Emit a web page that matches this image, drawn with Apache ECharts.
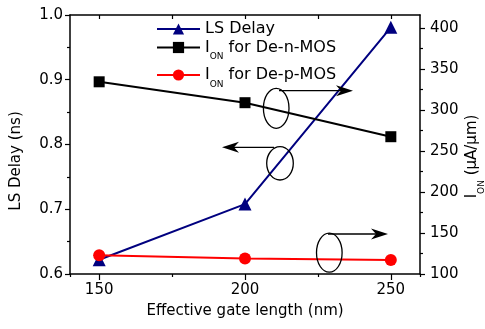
<!DOCTYPE html>
<html><head><meta charset="utf-8">
<script src="https://cdn.jsdelivr.net/npm/echarts@6/dist/echarts.min.js"></script>
<style>html,body{margin:0;padding:0;background:#fff}#c{width:485px;height:329px}</style>
</head><body><div id="c"></div>
<script>
// ---- data ----
const gateLength = [150, 200, 250];
const lsDelay = [0.622, 0.708, 0.981];
const ionN = [334.5, 309, 267.5];
const ionP = [123, 119, 117];
const xMajorTicks = [150, 200, 250];
const xMinorTicks = [140, 175, 225, 260];
const xTopTicks = [150, 175, 200, 225, 250];
const rightMajorTicks = [100, 150, 200, 250, 300, 350, 400];
const rightMinorTicks = [125, 175, 225, 275, 325, 375];
const seriesNames = ['LS Delay', 'ION for De-n-MOS', 'ION for De-p-MOS'];

const FONT = 'DejaVu Sans';
const chart = echarts.init(document.getElementById('c'), null, {renderer: 'canvas'});

const richSub = {
  m: {fontFamily: FONT, fontSize: 16, color: '#000'},
  s: {fontFamily: FONT, fontSize: 9, color: '#000', lineHeight: 9, padding: [19, 0, 0, 0]}
};
const richSubAxis = {
  m: {fontFamily: FONT, fontSize: 15, color: '#000'},
  s: {fontFamily: FONT, fontSize: 9, color: '#000', lineHeight: 9, padding: [19, 0, 0, 0]}
};

function legendFmt(name) {
  if (name === seriesNames[0]) return name;
  return '{m|I}{s|ON}{m|' + name.slice(3) + '}';
}
function mkLegend(name, top) {
  return {
    data: [name], left: 156, top: top, padding: 0, itemWidth: 43, itemHeight: 14,
    selectedMode: false, formatter: legendFmt,
    textStyle: {fontFamily: FONT, fontSize: 16, color: '#000', lineHeight: 22, rich: richSub}
  };
}
const axisLineStyle = {color: '#000', width: 1.5};

chart.setOption({
  animation: false,
  backgroundColor: '#fff',
  grid: {left: 70, right: 65, top: 15, bottom: 55, outerBoundsMode: 'none'},
  legend: [mkLegend(seriesNames[0], 18), mkLegend(seriesNames[1], 33.5), mkLegend(seriesNames[2], 61)],
  xAxis: [
    {
      type: 'value', position: 'bottom', min: 140, max: 260,
      name: 'Effective gate length (nm)', nameLocation: 'middle', nameGap: 30, nameMoveOverlap: false,
      nameTextStyle: {fontFamily: FONT, fontSize: 15, color: '#000'},
      axisLine: {lineStyle: axisLineStyle},
      axisTick: {customValues: xMajorTicks, length: 6, lineStyle: {color: '#000', width: 1.2}},
      axisLabel: {customValues: xMajorTicks, margin: 9, fontFamily: FONT, fontSize: 15, color: '#000'},
      splitLine: {show: false}
    },
    {
      type: 'value', position: 'bottom', min: 140, max: 260,
      axisLine: {show: false},
      axisTick: {customValues: xMinorTicks, length: 3, lineStyle: {color: '#000', width: 1.2}},
      axisLabel: {show: false}, splitLine: {show: false}
    },
    {
      type: 'value', position: 'top', min: 140, max: 260,
      axisLine: {lineStyle: axisLineStyle},
      axisTick: {customValues: xTopTicks, inside: true, length: 4, lineStyle: {color: '#000', width: 1.2}},
      axisLabel: {show: false}, splitLine: {show: false}
    }
  ],
  yAxis: [
    {
      type: 'value', position: 'left', min: 0.6, max: 1.0, interval: 0.1,
      name: 'LS Delay (ns)', nameLocation: 'middle', nameGap: 45, nameMoveOverlap: false,
      nameTextStyle: {fontFamily: FONT, fontSize: 15, color: '#000', lineHeight: 18, padding: [0, 33, 0, 0]},
      axisLine: {lineStyle: axisLineStyle},
      axisTick: {length: 5, lineStyle: {color: '#000', width: 1.2}},
      minorTick: {show: true, splitNumber: 2, length: 3, lineStyle: {color: '#000', width: 1.2}},
      axisLabel: {margin: 7, fontFamily: FONT, fontSize: 15, color: '#000', formatter: v => v.toFixed(1)},
      splitLine: {show: false}
    },
    {
      type: 'value', position: 'right', min: 100, max: 416,
      name: '{m|I}{s|ON}{m| (µA/µm)}', nameLocation: 'middle', nameGap: 45, nameMoveOverlap: false,
      nameTextStyle: {fontFamily: FONT, fontSize: 15, color: '#000', padding: [0, 24, 0, 0], rich: richSubAxis},
      axisLine: {lineStyle: axisLineStyle},
      axisTick: {customValues: rightMajorTicks, length: 5, lineStyle: {color: '#000', width: 1.2}},
      axisLabel: {customValues: rightMajorTicks, margin: 10, fontFamily: FONT, fontSize: 15, color: '#000'},
      splitLine: {show: false}
    },
    {
      type: 'value', position: 'right', min: 100, max: 416,
      axisLine: {show: false},
      axisTick: {customValues: rightMinorTicks, length: 3, lineStyle: {color: '#000', width: 1.2}},
      axisLabel: {show: false}, splitLine: {show: false}
    }
  ],
  series: [
    {
      name: seriesNames[0], type: 'line', xAxisIndex: 0, yAxisIndex: 0,
      data: gateLength.map((x, i) => [x, lsDelay[i]]),
      symbol: 'triangle', symbolSize: 13, color: '#00007f',
      lineStyle: {width: 2, color: '#00007f'}, itemStyle: {color: '#00007f'}, z: 3
    },
    {
      name: seriesNames[1], type: 'line', xAxisIndex: 0, yAxisIndex: 1,
      data: gateLength.map((x, i) => [x, ionN[i]]),
      symbol: 'rect', symbolSize: 11, color: '#000',
      lineStyle: {width: 2, color: '#000'}, itemStyle: {color: '#000'}, z: 3
    },
    {
      name: seriesNames[2], type: 'line', xAxisIndex: 0, yAxisIndex: 1,
      data: gateLength.map((x, i) => [x, ionP[i]]),
      symbol: 'circle', symbolSize: 12, color: '#ff0000',
      lineStyle: {width: 2, color: '#ff0000'}, itemStyle: {color: '#ff0000'}, z: 3
    }
  ]
});

// ---- annotations (ellipse + arrow), in pixels ----
function arrowHead(tipX, y, dir) {
  const L = 17, h = 5.5, n = 12;
  return {
    type: 'polygon', silent: true, z: 10,
    shape: {points: [[tipX, y], [tipX - dir * L, y - h], [tipX - dir * n, y], [tipX - dir * L, y + h]]},
    style: {fill: '#000'}
  };
}
function annotation(cx, cy, rx, ry, x0, y, tipX) {
  const dir = tipX > x0 ? 1 : -1;
  return [
    {type: 'ellipse', silent: true, z: 10, shape: {cx: cx, cy: cy, rx: rx, ry: ry},
      style: {fill: 'none', stroke: '#000', lineWidth: 1.3}},
    {type: 'line', silent: true, z: 10, shape: {x1: x0, y1: y, x2: tipX - dir * 10, y2: y},
      style: {stroke: '#000', lineWidth: 1.3}},
    arrowHead(tipX, y, dir)
  ];
}
chart.setOption({
  graphic: [].concat(
    annotation(276.2, 108.3, 12.8, 20, 279, 90.7, 353),
    annotation(280, 163.3, 13.3, 16.7, 274, 147.3, 222),
    annotation(329.3, 252.7, 12.8, 19.5, 328, 234, 388)
  )
});
</script>
</body></html>
